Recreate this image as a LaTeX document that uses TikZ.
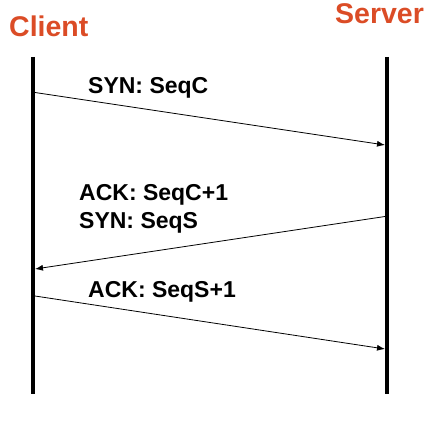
\documentclass[tikz,border=0pt]{standalone}
\usepackage{fontspec}
\setmainfont{Liberation Sans}
\usetikzlibrary{arrows.meta,positioning}
\definecolor{hostred}{RGB}{219,76,38}

\begin{document}
\begin{tikzpicture}[x=1pt,y=-1pt,>={Latex[length=8pt,width=6pt]},
    every node/.style={inner sep=0pt,font=\bfseries\fontsize{23}{27}\selectfont},
    host/.style={hostred,anchor=base west,font=\bfseries\fontsize{28.5}{32}\selectfont},
    msg/.style={anchor=base west},
    life/.style={line width=4pt},
    arrow/.style={->,line width=0.8pt}]

    \useasboundingbox (0,0) rectangle (431,436);

    \node[host] (CLIENT) at (9,36.5) {Client};
    \node[host] (SERVER) at (335,23.3) {Server};

    % lifelines
    \draw[life] (33,57) coordinate (C0) -- (33,394) coordinate (C1);
    \draw[life] (387,57) coordinate (S0) -- (387,394) coordinate (S1);

    \node[msg] (SYN) at (88,93) {SYN: SeqC};
    \node[msg] (ACK1) at (79,200) {ACK: SeqC+1};
    \node[msg] (SYN2) at (79,228) {SYN: SeqS};
    \node[msg] (ACK2) at (88,297) {ACK: SeqS+1};

    % handshake
    \draw[arrow] (35,92.5) coordinate (c1) -- (385,145) coordinate (s1);
    \draw[arrow] (385,216.5) coordinate (s2) -- (35,269) coordinate (c2);
    \draw[arrow] (35,296) coordinate (c3) -- (385,349) coordinate (s3);
\end{tikzpicture}
\end{document}
